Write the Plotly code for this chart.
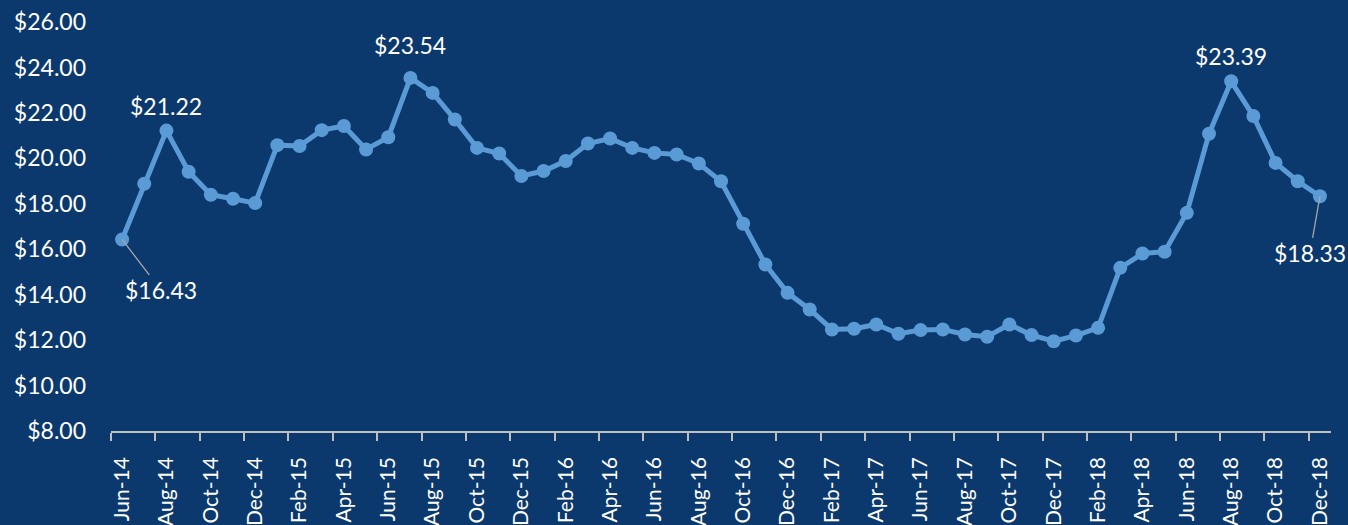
import plotly.graph_objects as go

months = [
    "Jun-14", "Jul-14", "Aug-14", "Sep-14", "Oct-14", "Nov-14", "Dec-14",
    "Jan-15", "Feb-15", "Mar-15", "Apr-15", "May-15", "Jun-15", "Jul-15",
    "Aug-15", "Sep-15", "Oct-15", "Nov-15", "Dec-15",
    "Jan-16", "Feb-16", "Mar-16", "Apr-16", "May-16", "Jun-16", "Jul-16",
    "Aug-16", "Sep-16", "Oct-16", "Nov-16", "Dec-16",
    "Jan-17", "Feb-17", "Mar-17", "Apr-17", "May-17", "Jun-17", "Jul-17",
    "Aug-17", "Sep-17", "Oct-17", "Nov-17", "Dec-17",
    "Jan-18", "Feb-18", "Mar-18", "Apr-18", "May-18", "Jun-18", "Jul-18",
    "Aug-18", "Sep-18", "Oct-18", "Nov-18", "Dec-18",
]

prices = [
    16.43, 18.88, 21.22, 19.41, 18.40, 18.22, 18.03,
    20.58, 20.54, 21.24, 21.42, 20.39, 20.93, 23.54,
    22.88, 21.71, 20.46, 20.21, 19.22,
    19.44, 19.88, 20.65, 20.87, 20.46, 20.24, 20.17,
    19.77, 18.99, 17.12, 15.33, 14.08,
    13.35, 12.47, 12.50, 12.69, 12.28, 12.44, 12.47,
    12.25, 12.15, 12.69, 12.22, 11.95,
    12.20, 12.54, 15.18, 15.81, 15.89, 17.60, 21.08,
    23.39, 21.86, 19.80, 18.99, 18.33,
]

y_ticks = [8, 10, 12, 14, 16, 18, 20, 22, 24, 26]

# points with data labels
labels_above = ["Aug-14", "Jul-15", "Aug-18"]
labels_leader = ["Jun-14", "Dec-18"]

BG = "#0B396D"
LINE = "#5B9BD5"
TXT = "#FFFFFF"
FONT = "Lato"
FS = 23

xs = list(range(len(months)))
idx = {m: i for i, m in enumerate(months)}

fig = go.Figure()
fig.add_trace(go.Scatter(
    x=xs, y=prices, mode="lines+markers",
    line=dict(color=LINE, width=5),
    marker=dict(size=14, color=LINE),
    hoverinfo="skip", showlegend=False,
))

above_shift = {"Aug-14": 25, "Jul-15": 33, "Aug-18": 25}
for m in labels_above:
    i = idx[m]
    fig.add_annotation(x=xs[i], y=prices[i], text=f"${prices[i]:.2f}",
                       showarrow=False, yshift=above_shift[m],
                       font=dict(color=TXT, size=FS, family=FONT))

leader_off = {"Jun-14": (39, 51), "Dec-18": (-10, 57)}
for m in labels_leader:
    i = idx[m]
    ax, ay = leader_off[m]
    fig.add_annotation(x=xs[i], y=prices[i], text=f"${prices[i]:.2f}",
                       showarrow=True, arrowhead=0, arrowwidth=1.3,
                       arrowcolor="#A6A6A6", ax=ax, ay=ay, standoff=0,
                       font=dict(color=TXT, size=FS, family=FONT))

fig.update_layout(
    width=1348, height=525,
    paper_bgcolor=BG, plot_bgcolor=BG,
    margin=dict(l=111, r=17, t=22, b=94),
    font=dict(family=FONT, color=TXT, size=FS),
    showlegend=False,
    xaxis=dict(
        range=[-0.5, len(months) - 0.5],
        tickmode="array",
        tickvals=xs[::2],
        ticktext=months[::2],
        tickangle=-90,
        ticks="",
        ticklabelstandoff=16,
        showline=True, linecolor="#BFBFBF", linewidth=1.5,
        showgrid=False, zeroline=False,
        automargin=False,
        tickfont=dict(size=21, color=TXT, family=FONT),
        minor=dict(tickmode="array",
                   tickvals=[x - 0.5 for x in xs[::2]],
                   ticks="outside", ticklen=8, tickwidth=1.5,
                   tickcolor="#BFBFBF", showgrid=False),
    ),
    yaxis=dict(
        range=[8, 26],
        tickmode="array",
        tickvals=y_ticks,
        ticktext=[f"${v:.2f}" for v in y_ticks],
        ticks="",
        ticklabelstandoff=24,
        showline=False, showgrid=False, zeroline=False,
        automargin=False,
        tickfont=dict(size=FS, color=TXT, family=FONT),
    ),
)

fig.write_html(
    "out.html",
    config={"displayModeBar": False},
    post_script="document.body.style.margin='0';document.body.style.overflow='hidden';",
)
